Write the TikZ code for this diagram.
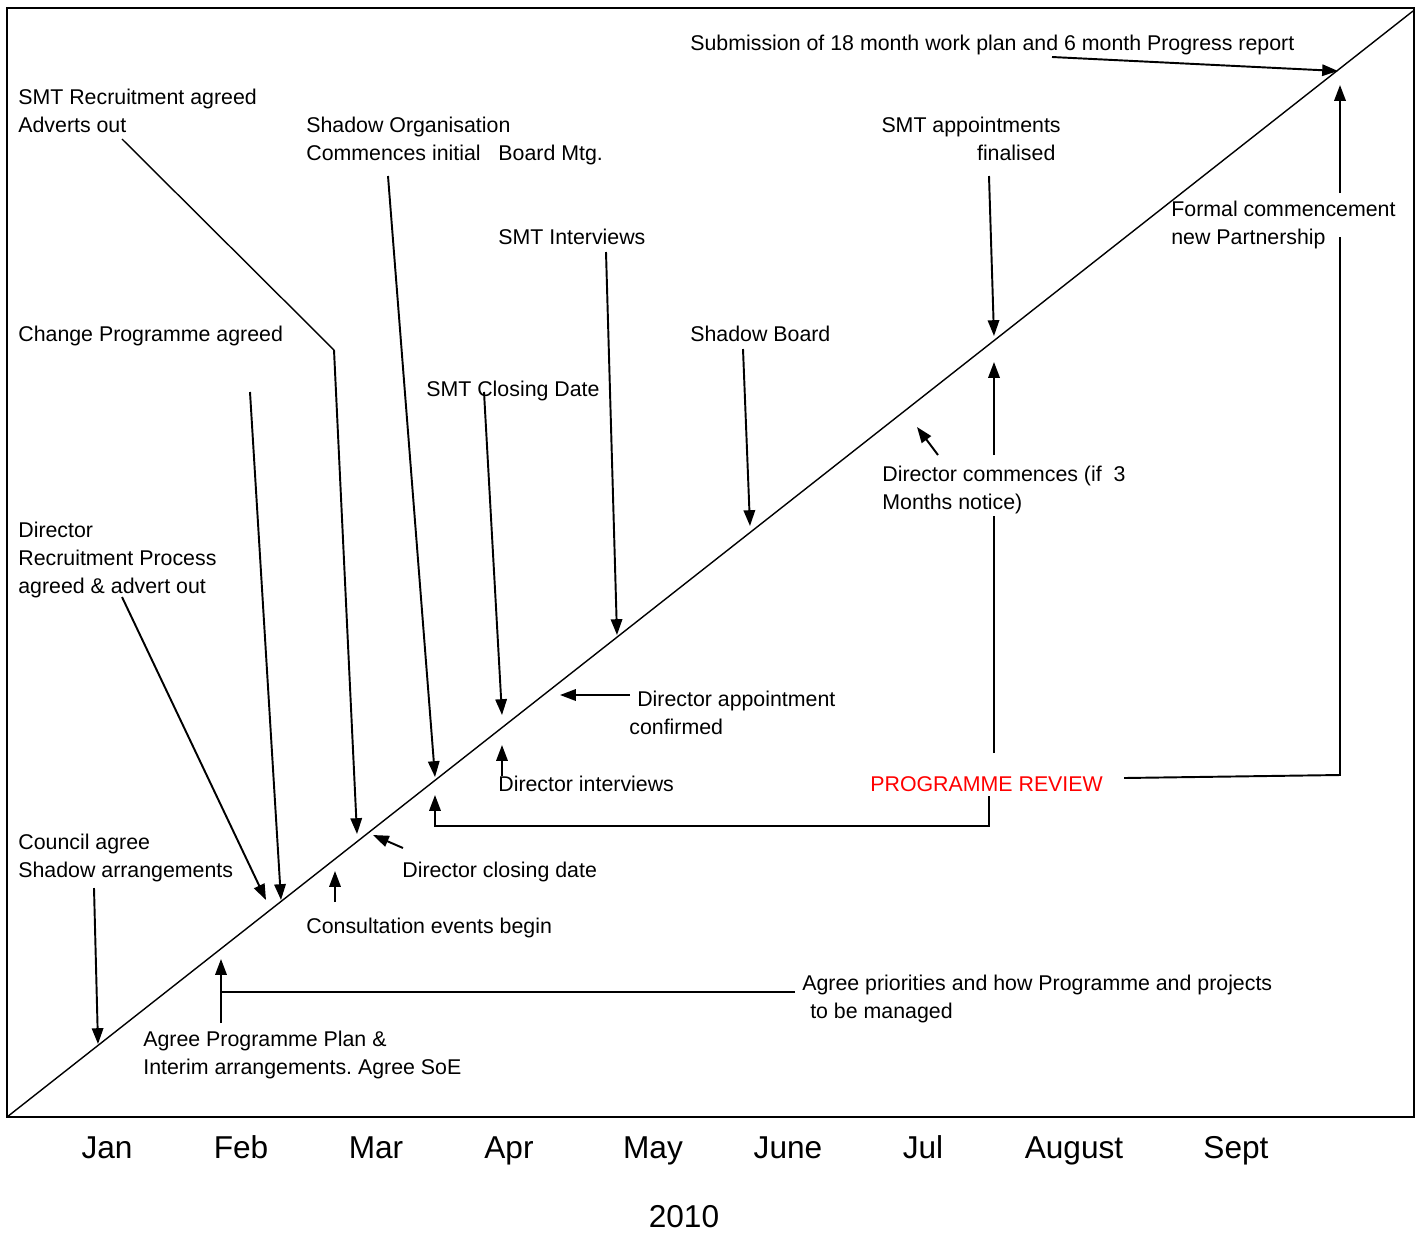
\documentclass[tikz,border=0pt]{standalone}
\usepackage{fontspec}
\setmainfont{Liberation Sans}
\usetikzlibrary{arrows.meta}
\frenchspacing

\begin{document}
\begin{tikzpicture}[x=0.02cm, y=-0.02cm,
    lbl/.style={anchor=north west, inner sep=0pt, align=left, font=\fontsize{12.15}{15.9}\selectfont},
    month/.style={anchor=base, inner sep=0pt, font=\fontsize{18}{21}\selectfont},
    ptr/.style={line width=1.1pt, -{Triangle[length=9pt, width=6.5pt]}},
    lnk/.style={line width=1.1pt},
    thinlnk/.style={line width=0.8pt}]
    \useasboundingbox (0,0) rectangle (1423,1235);

    % Rahmen und Zeitlinie
    \draw[line width=1.1pt] (7,8) rectangle (1414,1117);
    \draw[line width=1.6pt] (7,1117) -- (1414,1117);
    \coordinate (tl0) at (7,1117);
    \coordinate (tl1) at (1413,11);
    \draw[thinlnk] (tl0) -- (tl1);

    % Beschriftungen
    \node[lbl] (sub) at (690,35) {Submission of 18 month work plan and 6 month Progress report};
    \node[lbl] (smtrec) at (18,89) {SMT Recruitment agreed\\Adverts out};
    \node[lbl] (shadoworg) at (306,117) {Shadow Organisation\\Commences initial\ \ \ Board Mtg.};
    \node[lbl, align=right, anchor=north east] (smtapp) at (1061,117) {SMT appointments\\finalised\hspace*{3pt}};
    \node[lbl] (formal) at (1171,201) {Formal commencement\\new Partnership};
    \node[lbl] (smtint) at (498,229) {SMT Interviews};
    \node[lbl] (change) at (18,326) {Change Programme agreed};
    \node[lbl] (sboard) at (690,326) {Shadow Board};
    \node[lbl] (smtclose) at (426,381) {SMT Closing Date};
    \node[lbl] (dircom) at (882,466) {Director commences (if\ \ 3\\Months notice)};
    \node[lbl] (dirrec) at (18,522) {Director\\Recruitment Process\\agreed \& advert out};
    \node[lbl] (dirapp) at (629,691) {\hspace*{4.5pt}Director appointment\\confirmed};
    \node[lbl] (dirint) at (498,776) {Director interviews};
    \node[lbl, text=red] (review) at (870,776) {PROGRAMME REVIEW};
    \node[lbl] (council) at (18,834) {Council agree\\Shadow arrangements};
    \node[lbl] (dirclose) at (402,862) {Director closing date};
    \node[lbl] (consult) at (306,918) {Consultation events begin};
    \node[lbl] (prior) at (802,975) {Agree priorities and how Programme and projects\\\hspace*{4.5pt}to be managed};
    \node[lbl] (plan) at (143,1031) {Agree Programme Plan \&\\Interim arrangements. Agree SoE};

    % Monate
    \foreach \m/\x in {Jan/107, Feb/241, Mar/376, Apr/509, May/653, June/788, Jul/923, August/1074, Sept/1236} {
        \node[month] (m\m) at (\x,1158) {\m};
    }
    \node[month] (year) at (684,1227) {2010};

    % Punkte auf der Zeitlinie
    \coordinate (tSub) at (1338,71);
    \coordinate (tFormal) at (1340,85);
    \coordinate (tApp) at (994,336);
    \coordinate (tCom) at (994,362);
    \coordinate (tComB) at (917,427);
    \coordinate (tBoard) at (750,526);
    \coordinate (tInt) at (617,635);
    \coordinate (tClose) at (502,715);
    \coordinate (tDirApp) at (560,695);
    \coordinate (tDirInt) at (502,745);
    \coordinate (tOrg) at (435,777);
    \coordinate (tReview) at (435,795);
    \coordinate (tRec) at (357,834);
    \coordinate (tDirClose) at (373,835);
    \coordinate (tChange) at (281,900);
    \coordinate (tDirRec) at (266,900);
    \coordinate (tConsult) at (335,871);
    \coordinate (tPlan) at (221,959);
    \coordinate (tCouncil) at (98,1044);

    % Startpunkte an den Texten
    \coordinate (pSub) at (1052,57);
    \coordinate (pFormal) at (1340,193);
    \coordinate (pApp) at (989,176);
    \coordinate (pCom) at (994,455);
    \coordinate (pComB) at (938,455);
    \coordinate (pBoard) at (743,349);
    \coordinate (pInt) at (606,252);
    \coordinate (pClose) at (484,392);
    \coordinate (pDirApp) at (630,695);
    \coordinate (pDirInt) at (502,776);
    \coordinate (pOrg) at (388,176);
    \coordinate (pRec) at (122,139);
    \coordinate (pRecBend) at (334,350);
    \coordinate (pChange) at (250,392);
    \coordinate (pDirRec) at (122,597);
    \coordinate (pDirClose) at (403,848);
    \coordinate (pConsult) at (335,902);
    \coordinate (pCouncil) at (94,888);
    \coordinate (pPlan) at (221,1023);
    \coordinate (pPrior) at (795,992);
    \coordinate (pPriorEnd) at (221,992);

    % Pfeile
    \draw[ptr] (pSub) -- (tSub);
    \draw[ptr] (pFormal) -- (tFormal);
    \draw[ptr] (pApp) -- (tApp);
    \draw[ptr] (pCom) -- (tCom);
    \draw[ptr] (pComB) -- (tComB);
    \draw[ptr] (pBoard) -- (tBoard);
    \draw[ptr] (pInt) -- (tInt);
    \draw[ptr] (pClose) -- (tClose);
    \draw[ptr] (pDirApp) -- (tDirApp);
    \draw[ptr] (pDirInt) -- (tDirInt);
    \draw[ptr] (pOrg) -- (tOrg);
    \draw[thinlnk] (pRec) -- (pRecBend);
    \draw[ptr] (pRecBend) -- (tRec);
    \draw[ptr] (pChange) -- (tChange);
    \draw[ptr] (pDirRec) -- (tDirRec);
    \draw[ptr] (pDirClose) -- (tDirClose);
    \draw[ptr] (pConsult) -- (tConsult);
    \draw[ptr] (pCouncil) -- (tCouncil);
    \draw[ptr] (pPlan) -- (tPlan);
    \draw[lnk] (pPrior) -- (pPriorEnd);

    % Programme Review
    \draw[lnk] (994,753) -- (994,516);
    \draw[ptr] (989,796) -- (989,826) -- (435,826) -- (tReview);
    \draw[lnk] (1124,778) -- (1340,775) -- (1340,237);
\end{tikzpicture}
\end{document}
